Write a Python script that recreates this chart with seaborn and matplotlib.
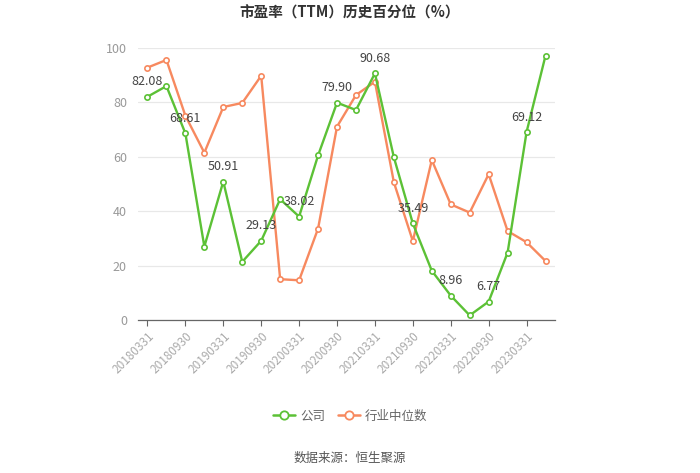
import matplotlib
matplotlib.use("Agg")
import matplotlib.pyplot as plt
import seaborn as sns
import pandas as pd
import numpy as np
from matplotlib.lines import Line2D

dates = ["20180331", "20180630", "20180930", "20181231",
         "20190331", "20190630", "20190930", "20191231",
         "20200331", "20200630", "20200930", "20201231",
         "20210331", "20210630", "20210930", "20211231",
         "20220331", "20220630", "20220930", "20221231",
         "20230331", "20230630"]
company = [82.08, 86.0, 68.61, 27.0, 50.91, 21.4, 29.13, 44.4, 38.02, 60.5,
           79.90, 77.2, 90.68, 59.8, 35.49, 18.1, 8.96, 1.7, 6.77, 24.8,
           69.12, 97.2]
industry = [92.8, 95.6, 75.1, 61.5, 78.3, 79.8, 89.8, 15.0, 14.6, 33.6,
            71.1, 82.7, 87.6, 50.6, 29.0, 58.8, 42.5, 39.5, 53.6, 32.7,
            28.6, 21.7]
series_names = ["公司", "行业中位数"]
colors = ["#5cc136", "#f7895f"]

sns.set_theme(style="white")
plt.rcParams['font.family'] = ['Noto Sans CJK SC', 'DejaVu Sans']

x = list(range(len(dates)))

fig = plt.figure(figsize=(7, 4.73), dpi=100)
ax = fig.add_axes([138/700, 1-320/473, (555-138)/700, (320-48)/473])

for vals, c, z in [(industry, colors[1], 2), (company, colors[0], 3)]:
    sns.lineplot(x=x, y=vals, color=c, marker="o", markersize=3.8,
                 markerfacecolor="white", markeredgecolor=c,
                 markeredgewidth=1.2, linewidth=1.7, ax=ax, zorder=z)

ax.set_xlim(-0.5, len(dates) - 0.5)
ax.set_ylim(0, 100)
ax.set_yticks([0, 20, 40, 60, 80, 100])
ax.set_yticklabels(["0", "20", "40", "60", "80", "100"], color="#999999", fontsize=9)
ax.tick_params(axis="y", length=0, pad=8)
ax.yaxis.grid(True, color="#e8e8e8", linewidth=0.9)
ax.set_axisbelow(True)

tick_idx = list(range(0, len(dates), 2))
ax.set_xticks(tick_idx)
ax.set_xticklabels([dates[i] for i in tick_idx], rotation=45, ha="right",
                   rotation_mode="anchor", color="#aaaaaa", fontsize=8.5)
ax.tick_params(axis="x", length=4, color="#666666", width=0.8, pad=3, bottom=True)
ax.set_xlabel("")
ax.set_ylabel("")
for s in ["top", "right", "left"]:
    ax.spines[s].set_visible(False)
ax.spines["bottom"].set_color("#666666")
ax.spines["bottom"].set_linewidth(0.9)

for i in tick_idx:
    ax.annotate(f"{company[i]:.2f}", (i, company[i]), xytext=(0, 6),
                textcoords="offset points", ha="center", va="bottom",
                fontsize=9, color="#444444", zorder=5)

fig.text(0.5, 1 - 13/473, "市盈率（TTM）历史百分位（%）", ha="center", va="center",
         fontsize=10.5, fontweight="bold", color="#333333")

handles = [Line2D([], [], color=c, marker="o", markersize=6, markerfacecolor="white",
                  markeredgecolor=c, markeredgewidth=1.3, linewidth=1.8) for c in colors]
fig.legend(handles, series_names, loc="center", bbox_to_anchor=(0.5, 1 - 416/473),
           ncol=2, frameon=False, fontsize=9, handlelength=1.8, columnspacing=1.0,
           handletextpad=0.4, labelcolor="#666666")

fig.text(0.5, 1 - 458/473, "数据来源：恒生聚源", ha="center", va="center",
         fontsize=9, color="#555555")

fig.savefig("out.png", dpi=100, facecolor="white")
